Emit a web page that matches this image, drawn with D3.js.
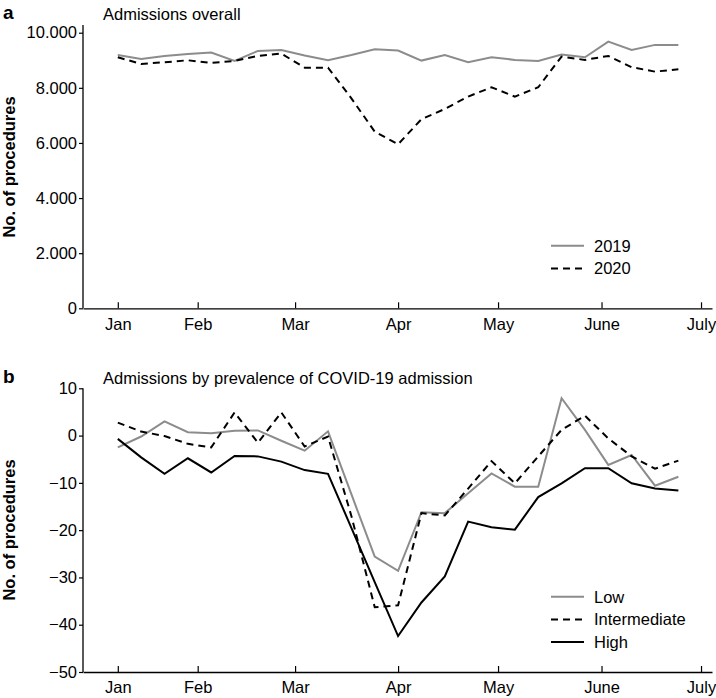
<!DOCTYPE html>
<html>
<head>
<meta charset="utf-8">
<script src="https://cdn.jsdelivr.net/npm/d3@7/dist/d3.min.js"></script>
<style>
  body { margin: 0; background: #fff; }
  text { font-family: "Liberation Sans", Arial, Helvetica, sans-serif; }
</style>
</head>
<body>
<div id="chart"></div>
<script>
// week index of each point, Jan week 1 = 0
var weeks = [0,1,2,3,4,5,6,7,8,9,10,11,12,13,14,15,16,17,18,19,20,21,22,23,24];
var monthLabels = ["Jan","Feb","Mar","Apr","May","June","July"];
var monthPos = [0, 3.42, 7.59, 12, 16.28, 20.71, 24.97];

// panel a - admissions overall
var adm2019 = [9194,9049,9158,9230,9278,8976,9340,9376,9170,9000,9190,9400,9352,8989,9194,8928,9110,9013,8976,9206,9110,9678,9376,9558,9558];
var adm2020 = [9110,8867,8928,9000,8903,8976,9158,9243,8733,8733,7620,6410,5953,6860,7234,7682,8021,7682,8021,9134,9013,9158,8748,8588,8675];
var ticksA = [0,2000,4000,6000,8000,10000];

// panel b - by prevalence of COVID-19 admission
var low = [-2.5,-0.2,3.0,0.7,0.5,1.0,1.1,-1.1,-3.2,0.9,-12.4,-25.6,-28.6,-16.2,-16.4,-12.2,-8.0,-10.8,-10.8,7.9,1.2,-6.2,-4.1,-10.6,-8.7];
var intermediate = [2.75,0.85,-0.1,-1.75,-2.5,4.9,-1.5,4.9,-2.3,-0.2,-17,-36.3,-35.9,-16.4,-16.9,-11.2,-5.4,-10.1,-4.4,1.2,4.2,-0.6,-4.4,-7.0,-5.3];
var high = [-0.7,-4.6,-8.1,-4.8,-7.8,-4.3,-4.4,-5.5,-7.3,-8.1,-19.5,-31,-42.4,-35.3,-29.8,-18.2,-19.4,-19.9,-13.0,-10.1,-6.9,-6.9,-10.1,-11.2,-11.6];
var ticksB = [-50,-40,-30,-20,-10,0,10];

var width = 716, height = 698;
var grey = "#8c8c8c";
var fontSize = "16.5px";

var svg = d3.select("#chart").append("svg")
  .attr("width", width)
  .attr("height", height);

var x = d3.scaleLinear().domain([-1.49, 25.44]).range([83, 712]);

var fmtA = function(d) { return d3.format(",")(d).replace(",", "."); };
var fmtB = function(d) { return d3.format("")(d).replace("-", "\u2212"); };

/**
 * draw one panel
 */
function drawPanel(opt) {
  var y = d3.scaleLinear().domain(opt.domain).range(opt.range);
  var g = svg.append("g");

  // panel letter + title
  g.append("text").attr("x", 3).attr("y", opt.titleY)
    .style("font-size", "19px").style("font-weight", "bold").text(opt.letter);
  g.append("text").attr("x", 103).attr("y", opt.titleY + 1)
    .style("font-size", fontSize).text(opt.title);

  // y axis
  var yAxis = g.append("g").attr("transform", "translate(83,0)")
    .call(d3.axisLeft(y).tickValues(opt.ticks).tickSize(4).tickSizeOuter(0).tickPadding(2).tickFormat(opt.fmt));
  yAxis.select(".domain").remove();
  g.append("line").attr("x1", 83).attr("x2", 83)
    .attr("y1", opt.range[1]).attr("y2", opt.range[0])
    .attr("stroke", "#000").attr("stroke-width", 1.3);

  // x axis, ticks pointing inwards
  var xAxis = g.append("g").attr("transform", "translate(0," + opt.range[0] + ")")
    .call(d3.axisBottom(x).tickValues(monthPos).tickSize(-6).tickSizeOuter(0).tickPadding(9.5)
      .tickFormat(function(d, i) { return monthLabels[i]; }));
  xAxis.select(".domain").attr("stroke-width", 1.3);

  svg.selectAll(".tick text").style("font-size", fontSize).style("font-family", "Liberation Sans, Arial, sans-serif");
  svg.selectAll(".tick line").attr("stroke-width", 1.2);

  // y label
  g.append("text")
    .attr("transform", "translate(15," + opt.labelY + ") rotate(-90)")
    .attr("text-anchor", "middle")
    .style("font-size", fontSize).style("font-weight", "bold")
    .text("No. of procedures");

  var line = d3.line()
    .x(function(d, i) { return x(weeks[i]); })
    .y(function(d) { return y(d); });

  opt.series.forEach(function(s) {
    g.append("path").datum(s.values)
      .attr("d", line)
      .attr("fill", "none")
      .attr("stroke", s.color)
      .attr("stroke-width", 2)
      .attr("stroke-dasharray", s.dash || null)
      .attr("stroke-linejoin", "miter");
  });

  // legend
  opt.series.forEach(function(s, i) {
    var ly = opt.legendY + i * 22.7;
    g.append("line").attr("x1", 551).attr("x2", 584)
      .attr("y1", ly).attr("y2", ly)
      .attr("stroke", s.color).attr("stroke-width", 2)
      .attr("stroke-dasharray", s.dash || null);
    g.append("text").attr("x", 594).attr("y", ly + 6)
      .style("font-size", fontSize).text(s.name);
  });
}

drawPanel({
  letter: "a",
  title: "Admissions overall",
  titleY: 18.5,
  domain: [0, 10280],
  range: [308.3, 25],
  ticks: ticksA,
  fmt: fmtA,
  labelY: 167,
  legendY: 245.7,
  series: [
    { name: "2019", values: adm2019, color: grey },
    { name: "2020", values: adm2020, color: "#000", dash: "7,5" }
  ]
});

drawPanel({
  letter: "b",
  title: "Admissions by prevalence of COVID-19 admission",
  titleY: 382.5,
  domain: [-50, 10],
  range: [672, 388.3],
  ticks: ticksB,
  fmt: fmtB,
  labelY: 530,
  legendY: 596.7,
  series: [
    { name: "Low", values: low, color: grey },
    { name: "Intermediate", values: intermediate, color: "#000", dash: "7,5" },
    { name: "High", values: high, color: "#000" }
  ]
});
</script>
</body>
</html>
